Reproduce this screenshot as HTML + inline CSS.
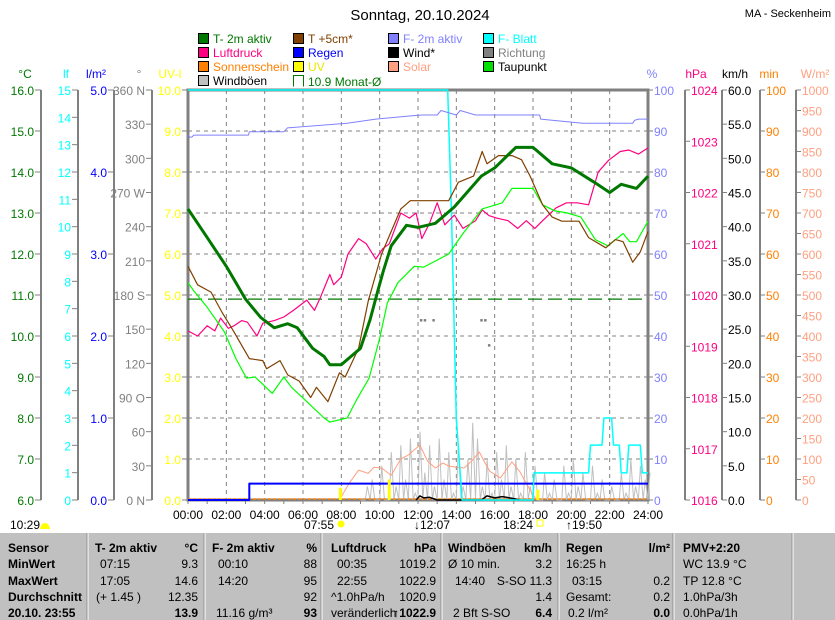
<!DOCTYPE html>
<html><head><meta charset="utf-8"><style>
body{margin:0;background:#fff;}
svg{display:block;font-family:"Liberation Sans",sans-serif;}
</style></head><body>
<svg id="chart" width="835" height="620" viewBox="0 0 835 620" xmlns="http://www.w3.org/2000/svg">
<rect x="0" y="0" width="835" height="620" fill="#fff"/>
<text x="420" y="20" font-size="15" text-anchor="middle" fill="#000">Sonntag, 20.10.2024</text>
<text x="831" y="17" font-size="11" text-anchor="end" fill="#000">MA - Seckenheim</text>
<g id="legend"></g>
<g id="grid"></g>
<g id="axes"></g>
<g id="series"></g>
<g id="table"></g>
</svg>
<script>
// ---- data ----
const hourTicks = ["00:00","02:00","04:00","06:00","08:00","10:00","12:00","14:00","16:00","18:00","20:00","22:00","24:00"];
const t2mTimes = [0,1,2,3,3.8,4.5,5.2,5.7,6.5,7.1,7.4,8,8.5,9,9.5,9.9,10.2,10.6,11.4,12,12.9,13.9,15.3,16,17.1,18,19,20,21.2,22,22.6,23.4,24];
const t2mValues = [13.1,12.4,11.7,10.9,10.45,10.2,10.3,10.2,9.7,9.5,9.3,9.3,9.5,9.7,10.4,11.1,11.6,12.2,12.7,12.65,12.75,13.15,13.9,14.1,14.6,14.6,14.2,14.1,13.75,13.5,13.7,13.6,13.9];
const t5Times = [0,0.5,1.2,1.75,2.4,3.2,3.9,4.1,4.8,5.2,5.8,6.4,6.7,7.3,7.9,8.2,8.9,9.4,10.1,11.1,11.6,12.2,13.6,14.1,14.9,15.35,15.6,16.2,16.9,17.4,17.85,18.5,19,19.5,20.4,20.9,21.8,22.3,22.7,23.2,23.6,24];
const t5Values = [11.7,11.25,11.07,10.6,10.1,9.45,9.4,9.2,9.4,9.05,8.9,8.5,8.75,8.4,9.1,9.0,9.7,10.85,12.0,13.1,13.3,13.3,13.3,13.75,13.9,14.5,14.2,14.4,14.4,14.3,13.9,13.2,12.9,12.8,12.8,12.4,12.15,12.35,12.3,11.8,12.05,12.55];
const dewTimes = [0,0.3,1,1.9,2.5,3.05,3.5,4.4,5,5.4,6.2,7.1,7.4,8.3,8.8,9.45,10,10.4,10.95,11.8,12.3,13.6,14.35,15.35,16.4,16.9,18,18.5,19.15,19.8,20.5,21.25,21.9,22.7,23.05,23.4,24];
const dewValues = [11.3,11.1,10.7,10.1,9.45,8.97,9.0,8.6,9.0,8.75,8.4,8.0,7.9,8.0,8.45,8.97,9.95,10.8,11.3,11.7,11.68,12.0,12.5,13.1,13.25,13.6,13.6,13.2,13.05,13.0,12.9,12.35,12.2,12.5,12.3,12.3,12.8];
const pressTimes = [0,0.5,1,1.4,1.7,2.1,2.4,2.8,3.1,3.6,3.9,4.5,5,5.5,6.2,6.6,6.9,7.4,7.6,8,8.35,8.9,9.3,9.8,10.15,10.5,11.1,11.55,11.9,12.2,12.6,13,13.4,13.9,14.35,15,15.35,15.7,16.1,16.7,17.2,17.65,18.1,18.5,19.2,19.75,20.3,20.9,21.4,21.95,22.55,23,23.5,24];
const pressValues = [1019.3,1019.2,1019.4,1019.3,1019.55,1019.35,1019.4,1019.5,1019.47,1019.2,1019.45,1019.5,1019.57,1019.7,1019.9,1019.7,1019.95,1020.4,1020.2,1020.35,1020.8,1021.1,1021.0,1020.7,1020.9,1021.0,1021.6,1021.5,1021.6,1021.1,1021.4,1021.8,1021.37,1021.56,1021.3,1021.45,1021.66,1021.55,1021.5,1021.45,1021.3,1021.45,1021.3,1021.45,1021.7,1021.8,1021.8,1021.76,1022.4,1022.63,1022.8,1022.83,1022.75,1022.87];
const humTimes = [0,0.1,0.2,0.3,3.15,3.2,5.0,5.2,5.3,8.3,9.8,11.7,12.2,13.0,13.2,14.0,14.2,15.0,15.2,18.35,18.4,20.6,23.2,23.3,23.5,24];
const humValues = [89.0,88.5,88.5,89.0,89.0,89.8,89.8,90.8,90.8,91.9,92.9,93.7,93.9,93.9,95,93.9,95,93.9,93.9,93.9,92.9,91.9,91.9,92.6,92.9,92.9];
const leafTimes = [0,13.55,13.75,14.0,14.15,14.3,18.0,18.05,20.9,21.0,21.6,21.7,22.1,22.2,22.5,22.6,22.9,23.0,23.6,23.7,24];
const leafValues = [100,100,70,20,10,0,0,6.6,6.6,13.4,13.4,20,20,13.4,13.4,6.6,6.6,13.4,13.4,6.6,6.6];
const solarTimes = [7.9,8.4,8.9,9.4,9.7,10.1,10.6,11.1,11.5,12.1,12.5,12.9,13.3,13.6,14.0,14.4,14.8,15.2,15.5,15.75,16.3,16.9,17.3,17.6,17.9,18.2];
const solarValues = [0,40,73,65,80,78,60,100,110,134,95,78,90,83,80,78,95,117,90,70,54,93,70,45,20,0];
const gustTimes = [9,9.25,9.5,9.75,10,10.25,10.5,10.75,11,11.25,11.5,11.75,12,12.25,12.5,12.75,13,13.25,13.5,13.75,14,14.25,14.5,14.75,15,15.25,15.5,15.75,16,16.25,16.5,16.75,17,17.25,17.5,17.75,18,18.25,18.5,18.75,19,19.25,19.5,19.75,20,20.25,20.5,20.75,21,21.25,21.5,21.75,22,22.25,22.5,22.75,23,23.25,23.5,23.75,24];
const gustValues = [0,2,3,0,5,0,7,2,8,3,9,1,10,4,8,2,9,3,7,1,8,2,6,11.3,9,2,6,1,7,3,8,2,6,1,7,2,5,0,4,1,3,0,5,1,6,2,4,0,5,1,3,0,2,0,4,1,6,2,5,3,4];
const windTimes = [11.9,12.1,12.3,12.6,13,15.3,15.6,16.0,16.4,17.0,17.3];
const windValues = [0,0.6,0.3,0.4,0,0,0.6,0.3,0.5,0.2,0];
const rainTimes = [0,3.2,3.2,24];
const rainValues = [0,0,0.2,0.2];
const uvTimes = [7.95,10.5,18.25];
const uvValues = [0.3,0.5,0.25];
const dirTimes = [12.15,12.35,12.8,15.3,15.5,15.7];
const dirValues = [158,158,158,158,158,136];
const monthAvg = 10.9;

// ---- geometry ----
const L=188,R=648,T=90,B=500;
const xh=h=>L+h*(R-L)/24;
const yC=v=>B-(v-6)*(B-T)/10;
const yP=p=>B-p*(B-T)/100;
const yH=v=>B-(v-1016)*(B-T)/8;
const yS=w=>B-w*(B-T)/1000;
const yK=k=>B-k*(B-T)/60;
const yR=r=>B-r*(B-T)/5;
const yU=u=>B-u*(B-T)/10;
const yD=d=>B-d*(B-T)/360;
const NS="http://www.w3.org/2000/svg";
function mk(tag,attrs,parent){const e=document.createElementNS(NS,tag);for(const k in attrs)e.setAttribute(k,attrs[k]);parent.appendChild(e);return e;}
function txt(s,x,y,size,fill,anchor,parent,weight){const e=mk('text',{x:x,y:y,'font-size':size,fill:fill,'text-anchor':anchor||'start'},parent);if(weight)e.setAttribute('font-weight',weight);e.textContent=s;return e;}

// ---- legend ----
const lg=document.getElementById('legend');
const legendItems=[
["T- 2m aktiv","#007800","#007800",0,0],["T +5cm*","#804000","#804000",1,0],["F- 2m aktiv","#8080ff","#8080ff",2,0],["F- Blatt","#00ffff","#00ffff",3,0],
["Luftdruck","#ff0080","#ff0080",0,1],["Regen","#0000ff","#0000ff",1,1],["Wind*","#000","#000",2,1],["Richtung","#808080","#808080",3,1],
["Sonnenschein","#ff8000","#ff8000",0,2],["UV","#ffff00","#e8e800",1,2],["Solar","#ffa080","#ffa080",2,2],["Taupunkt","#00e000","#000",3,2],
["Windböen","#c0c0c0","#000",0,3]];
legendItems.forEach(it=>{
 const g=mk('g',{},lg);
 
 
 const x=198+it[3]*95,y=33+it[4]*14;
 mk('rect',{x:x+0.5,y:y+0.5,width:10,height:10,fill:it[1],stroke:'#000','stroke-width':1},g);
 txt(it[0],x+15,y+10,12,it[2],'start',g);
});
{const g=mk('g',{},lg);
 
 
 mk('path',{d:'M293.5,86.5 V75.5 H303.5 V86.5',fill:'none',stroke:'#007800'},g);
 txt("10.9 Monat-Ø",308,86,12,'#007800','start',g);}

// ---- grid ----
const gr=document.getElementById('grid');
for(let i=1;i<10;i++){const y=T+i*41;const l=mk('line',{x1:L,x2:R,y1:y,y2:y,stroke:'#808080','stroke-dasharray':'4,4'},gr);
 
 }
for(let i=1;i<12;i++){const x=xh(i*2);const l=mk('line',{x1:x,x2:x,y1:T,y2:B,stroke:'#808080','stroke-dasharray':'4,4'},gr);
 
 }

// ---- axes ----
const ax=document.getElementById('axes');
function leftAxis(name,xLine,n,labelFn,color,unit,unitX){
 const g=mk('g',{},ax);
 
 
 mk('line',{x1:xLine,x2:xLine,y1:T,y2:B,stroke:'#808080','stroke-width':2},g);
 for(let i=0;i<=n;i++){const y=B-i*(B-T)/n;mk('line',{x1:xLine-6,x2:xLine,y1:y,y2:y,stroke:'#808080'},g);
  const s=labelFn(i);if(s!==null)txt(s,xLine-7,y+5,12,color,'end',g);}
 txt(unit,unitX,78,12,color,'middle',g);
}
function rightAxis(name,xLine,n,labelFn,color,unit,unitX){
 const g=mk('g',{},ax);
 
 
 mk('line',{x1:xLine,x2:xLine,y1:T,y2:B,stroke:'#808080','stroke-width':2},g);
 for(let i=0;i<=n;i++){const y=B-i*(B-T)/n;mk('line',{x1:xLine,x2:xLine+5,y1:y,y2:y,stroke:'#808080'},g);
  const s=labelFn(i);if(s!==null)txt(s,xLine+6,y+5,12,color,'start',g);}
 txt(unit,unitX,78,12,color,'middle',g);
}
leftAxis('temp-axis',41,10,i=>(6+i).toFixed(1),'#007800','°C',25);
leftAxis('leaf-axis',78,15,i=>String(i),'#00ffff','lf',66);
leftAxis('rain-axis',114,5,i=>i.toFixed(1),'#0000ff','l/m²',96);
const dirLabels={0:'0   N',3:'90   O',6:'180 S',9:'270 W',12:'360 N'};
leftAxis('direction-axis',152,12,i=>dirLabels[i]!==undefined?dirLabels[i]:String(i*30),'#808080','°',139);
leftAxis('uv-axis',188,10,i=>i.toFixed(1),'#ffff00','UV-I',170);
rightAxis('humidity-axis',648,10,i=>String(i*10),'#8080ff','%',652);
rightAxis('pressure-axis',685,8,i=>String(1016+i),'#ff0080','hPa',696);
rightAxis('wind-axis',722,12,i=>(i*5).toFixed(1),'#000','km/h',735);
rightAxis('sunshine-axis',760,10,i=>String(i*10),'#ff8000','min',769);
rightAxis('solar-axis',796,20,i=>String(i*50),'#ffa080','W/m²',815);

// x axis
{const g=mk('g',{},ax);
 
 
 for(let h=0;h<=24;h++){mk('line',{x1:xh(h),x2:xh(h),y1:B,y2:B+4,stroke:'#808080'},g);}
 hourTicks.forEach((s,i)=>{txt(s,xh(i*2),519,12,'#000','middle',g);});
 txt('10:29',10,529,12,'#000','start',g);
 mk('path',{d:'M40,529 q1,-6 5,-6 q4,0 5,6 z',fill:'#ffff00'},g);
 txt('07:55',334,529,12,'#000','end',g);
 mk('circle',{cx:341,cy:524,r:3.5,fill:'#ffff00'},g);
 txt('↓12:07',414,529,12,'#000','start',g);
 txt('18:24',533,529,12,'#000','end',g);
 mk('rect',{x:537,y:520,width:6,height:6,fill:'none',stroke:'#ffff00'},g);
 txt('↑19:50',566,529,12,'#000','start',g);}

// plot frame
{const f=mk('rect',{x:L,y:T,width:R-L,height:B-T,fill:'none',stroke:'#808080','stroke-width':3},ax);
 
 }

// ---- series ----
const se=document.getElementById('series');
function line(name,times,vals,yf,color,w){
 const pts=times.map((t,i)=>xh(t).toFixed(1)+','+yf(vals[i]).toFixed(1)).join(' ');
 const p=mk('polyline',{points:pts,fill:'none',stroke:color,'stroke-width':w,'stroke-linejoin':'round'},se);
 
 
 return p;
}
// gusts as spikes
{const pts=[];gustTimes.forEach((t,i)=>{pts.push(xh(t).toFixed(1)+','+yK(0));pts.push((xh(t)+2).toFixed(1)+','+yK(gustValues[i]).toFixed(1));});
 const p=mk('polyline',{points:pts.join(' '),fill:'none',stroke:'#c0c0c0','stroke-width':1},se);
 
 }
{const s=mk('line',{x1:L,x2:R,y1:B-1,y2:B-1,stroke:'#ff8000','stroke-width':1.5,'stroke-dasharray':'3,2'},se);
 
 }
line('solar-series',solarTimes,solarValues,yS,'#ffa080',1);
line('wind-series',windTimes,windValues,yK,'#000',1.5);
line('rain-series',rainTimes,rainValues,yR,'#0000ff',2);
uvTimes.forEach((t,i)=>{const r=mk('rect',{x:xh(t)-1.5,y:yU(uvValues[i]),width:3,height:B-yU(uvValues[i]),fill:'#ffff00'},se);
 
 });
dirTimes.forEach((t,i)=>{const r=mk('rect',{x:xh(t)-1,y:yD(dirValues[i])-1,width:2.5,height:2.5,fill:'#808080'},se);
 
 });
{const m=mk('line',{x1:L,x2:R,y1:yC(monthAvg),y2:yC(monthAvg),stroke:'#007800','stroke-width':1.2,'stroke-dasharray':'14,6'},se);
 
 }
line('leaf-wetness-series',leafTimes,leafValues,yP,'#00ffff',1.5);
line('humidity-series',humTimes,humValues,yP,'#8080ff',1);
line('pressure-series',pressTimes,pressValues,yH,'#ff0080',1.2);
line('dewpoint-series',dewTimes,dewValues,yC,'#00ff00',1.2);
line('temp5cm-series',t5Times,t5Values,yC,'#804000',1.2);
line('temp2m-series',t2mTimes,t2mValues,yC,'#007800',3);

// ---- table ----
const tb=document.getElementById('table');
mk('rect',{x:0,y:532,width:835,height:88,fill:'#c0c0c0'},tb);
mk('line',{x1:0,x2:835,y1:532.5,y2:532.5,stroke:'#fff'},tb);
[88,205,322,442,559,674,793].forEach(x=>{mk('line',{x1:x,x2:x,y1:533,y2:620,stroke:'#fff'},tb);mk('line',{x1:x-1,x2:x-1,y1:533,y2:620,stroke:'#909090'},tb);});
const rowsY=[552,568,585,601,617];
const cells=[
// [text,x,row,anchor,bold]
["Sensor",8,0,'start',1],["MinWert",8,1,'start',1],["MaxWert",8,2,'start',1],["Durchschnitt",8,3,'start',1],["20.10. 23:55",8,4,'start',1],
["T- 2m aktiv",95,0,'start',1],["°C",198,0,'end',1],["07:15",100,1],["9.3",198,1,'end'],["17:05",100,2],["14.6",198,2,'end'],["(+ 1.45 )",96,3],["12.35",198,3,'end'],["13.9",198,4,'end',1],
["F- 2m aktiv",212,0,'start',1],["%",317,0,'end',1],["00:10",218,1],["88",317,1,'end'],["14:20",218,2],["95",317,2,'end'],["92",317,3,'end'],["11.16 g/m³",216,4],["93",317,4,'end',1],
["Luftdruck",331,0,'start',1],["hPa",436,0,'end',1],["00:35",337,1],["1019.2",436,1,'end'],["22:55",337,2],["1022.9",436,2,'end'],["^1.0hPa/h",331,3],["1020.9",436,3,'end'],["veränderlich",331,4],["↑1022.9",436,4,'end',1],
["Windböen",448,0,'start',1],["km/h",552,0,'end',1],["Ø 10 min.",448,1],["3.2",552,1,'end'],["14:40",455,2],["S-SO 11.3",552,2,'end'],["1.4",552,3,'end'],["2 Bft S-SO",453,4],["6.4",552,4,'end',1],
["Regen",566,0,'start',1],["l/m²",670,0,'end',1],["16:25 h",566,1],["03:15",572,2],["0.2",670,2,'end'],["Gesamt:",566,3],["0.2",670,3,'end'],["0.2 l/m²",568,4],["0.0",670,4,'end',1],
["PMV+2:20",683,0,'start',1],["WC 13.9 °C",683,1],["TP 12.8 °C",683,2],["1.0hPa/3h",683,3],["0.0hPa/1h",683,4]];
cells.forEach(c=>{const t=txt(c[0],c[1],rowsY[c[2]],12,'#000',c[3]||'start',tb,c[4]?'bold':null);
 
 });
</script>
</body></html>
